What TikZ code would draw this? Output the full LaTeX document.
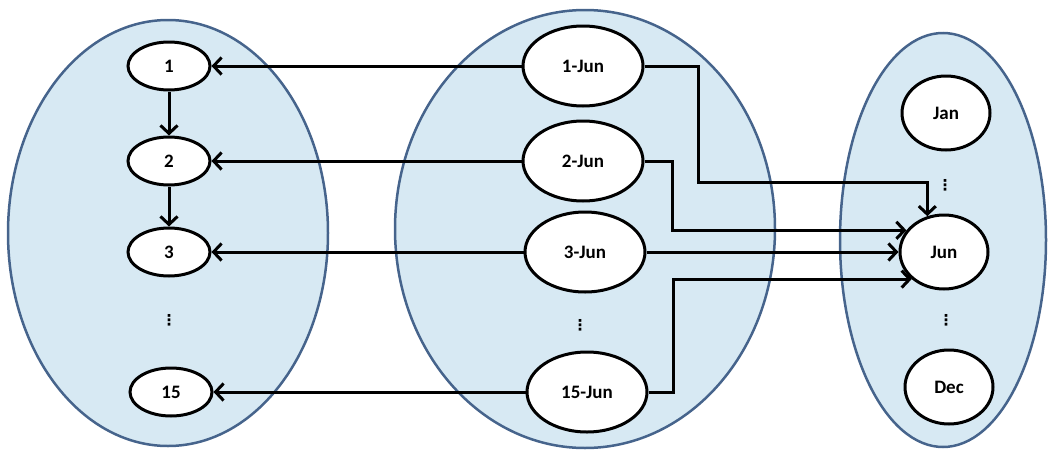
\documentclass[tikz,border=0pt]{standalone}
\usepackage{fontspec}
\setmainfont{Carlito}
\newfontfamily\dotsfont{DejaVu Sans}
\usetikzlibrary{shapes.geometric,arrows.meta}
\definecolor{setfill}{RGB}{215,233,243}
\definecolor{setline}{RGB}{70,100,140}
\tikzset{
  bigset/.style={fill=setfill,draw=setline,line width=2.5pt},
  valnode/.style={ellipse,draw,fill=white,line width=3pt,inner sep=0pt,
    font=\fontsize{19}{21}\selectfont\bfseries},
  daynode/.style={valnode,minimum width=82,minimum height=48},
  datenode/.style={valnode,minimum width=120,minimum height=80},
  monthnode/.style={valnode,minimum width=88,minimum height=74},
  dotsnode/.style={inner sep=0pt,font=\dotsfont\fontsize{15}{15}\selectfont\bfseries},
  conn/.style={line width=3pt,-{Straight Barb[length=8pt,width=17pt]}}
}
\begin{document}
\begin{tikzpicture}[x=1pt,y=-1pt]
  \useasboundingbox (0,0) rectangle (1050,450);
  \filldraw[bigset] (168,233) ellipse [x radius=160pt, y radius=213pt];
  \filldraw[bigset] (585,229) ellipse [x radius=190pt, y radius=219pt];
  \filldraw[bigset] (943,240) ellipse [x radius=103pt, y radius=207pt];
  % days
  \node[daynode] (n1) at (169,66) {1};
  \node[daynode] (n2) at (169,161) {2};
  \node[daynode] (n3) at (169,252) {3};
  \node[dotsnode] (ldots) at (169,320) {⋮};
  \node[daynode] (n15) at (171,392) {15};
  % dates
  \node[datenode] (d1) at (583,66) {1-Jun};
  \node[datenode] (d2) at (583,161) {2-Jun};
  \node[datenode] (d3) at (585,252) {3-Jun};
  \node[dotsnode] (mdots) at (580,325) {⋮};
  \node[datenode] (d15) at (587,392) {15-Jun};
  % months
  \node[monthnode] (jan) at (946,113) {Jan};
  \node[dotsnode] (udots) at (945,185) {⋮};
  \node[monthnode] (jun) at (944,252) {Jun};
  \node[dotsnode] (bdots) at (946,320) {⋮};
  \node[monthnode] (dec) at (949,387) {Dec};
  \draw[conn] (n1) -- (n2);
  \draw[conn] (n2) -- (n3);
  \draw[conn] (d1) -- (n1);
  \draw[conn] (d2) -- (n2);
  \draw[conn] (d3) -- (n3);
  \draw[conn] (d15) -- (n15);
  \draw[conn] (d1.east) -- ++(54,0) |- (jun.115 |- 0,182) -- (jun.115);
  \draw[conn] (d2.east) -- ++(28,0) |- (jun.150);
  \draw[conn] (d3) -- (jun);
  \draw[conn] (d15.east) -- ++(25,0) |- (jun.220);
\end{tikzpicture}
\end{document}
